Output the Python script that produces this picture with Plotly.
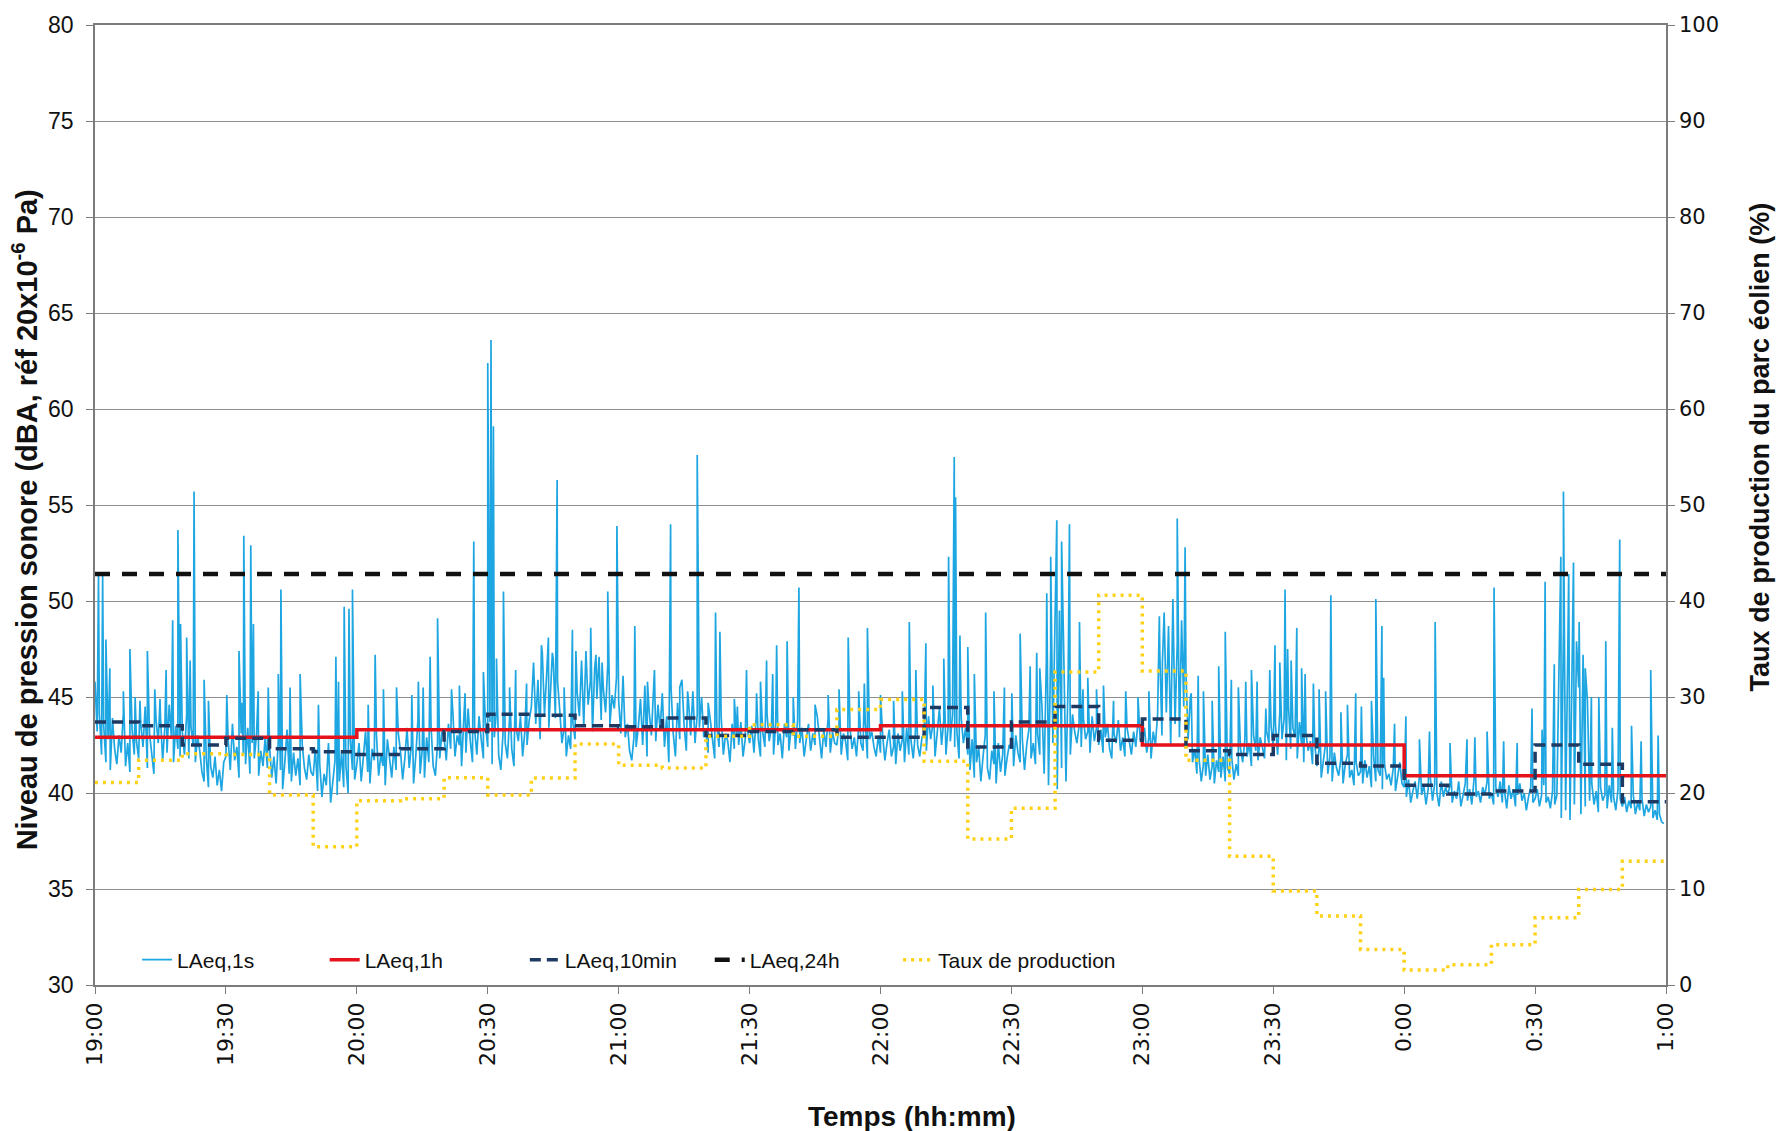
import plotly.graph_objects as go

# ---------------------------------------------------------------------------
# Data (time axis in minutes after 19:00, 360 min = 1:00)
# ---------------------------------------------------------------------------
tick_minutes = [0, 30, 60, 90, 120, 150, 180, 210, 240, 270, 300, 330, 360]
tick_labels = ["19:00", "19:30", "20:00", "20:30", "21:00", "21:30", "22:00",
               "22:30", "23:00", "23:30", "0:00", "0:30", "1:00"]

# LAeq,1s background level, one value every 30 s (20 values per 10-min block)
laeq_1s_band = [
    45.8, 43.2, 44.1, 42.0, 43.5, 41.6, 42.8, 41.2, 43.9, 42.3,
    41.5, 43.0, 42.1, 44.2, 41.4, 42.6, 41.1, 43.3, 42.0, 42.7,
    41.8, 43.6, 42.4, 44.5, 41.3, 43.1, 42.2, 41.0, 43.8, 42.6,
    44.0, 41.7, 43.4, 42.1, 44.6, 42.9, 41.6, 43.5, 42.3, 41.9,
    43.2, 42.0, 44.1, 41.8, 43.4, 42.5, 41.6, 43.0, 42.2, 41.1,
    40.6, 41.8, 40.3, 41.4, 40.8, 41.9, 40.4, 41.2, 40.1, 41.6,
    41.9, 42.8, 41.2, 43.6, 41.7, 42.4, 40.8, 43.1, 42.0, 41.5,
    43.4, 41.0, 42.6, 41.8, 43.0, 40.9, 42.2, 41.4, 42.9, 41.3,
    42.4, 40.8, 41.9, 40.5, 42.7, 41.2, 40.2, 41.6, 43.3, 41.0,
    40.6, 42.1, 40.9, 41.8, 40.4, 42.5, 41.3, 40.7, 42.0, 41.1,
    40.9, 42.3, 40.1, 41.5, 39.8, 41.0, 40.4, 42.6, 39.5, 40.8,
    41.7, 39.9, 40.6, 42.1, 40.3, 41.4, 40.0, 42.8, 41.2, 40.7,
    41.5, 42.6, 40.6, 41.9, 43.2, 41.1, 40.5, 42.3, 41.7, 43.0,
    40.9, 42.0, 41.4, 40.4, 42.8, 41.6, 40.8, 42.4, 41.2, 43.1,
    42.2, 40.7, 41.8, 43.4, 41.3, 42.5, 40.5, 41.9, 43.8, 41.0,
    42.3, 40.8, 42.9, 41.6, 43.5, 41.4, 40.9, 42.6, 41.8, 43.2,
    42.9, 41.7, 43.6, 42.3, 44.2, 41.9, 43.0, 42.5, 41.4, 43.8,
    42.1, 44.4, 42.7, 41.6, 43.3, 42.0, 44.0, 42.8, 41.8, 43.5,
    42.4, 43.7, 41.5, 42.9, 44.3, 42.0, 41.2, 43.1, 42.6, 41.8,
    43.9, 42.3, 41.4, 43.4, 42.7, 44.0, 41.9, 43.2, 42.5, 43.8,
    44.5, 46.8, 43.6, 45.9, 42.8, 47.3, 44.1, 46.2, 43.4, 45.5,
    47.0, 43.9, 45.8, 44.3, 42.6, 43.4, 41.9, 43.0, 42.3, 43.7,
    42.8, 45.2, 44.0, 46.9, 43.5, 47.4, 44.6, 45.8, 43.2, 46.5,
    44.9, 47.1, 43.8, 45.4, 44.2, 46.7, 43.6, 45.1, 44.4, 46.0,
    44.8, 43.1, 45.6, 42.9, 43.6, 42.2, 41.7, 42.9, 42.4, 43.4,
    44.9, 42.5, 45.6, 41.9, 44.2, 43.0, 45.8, 42.7, 44.6, 43.3,
    45.2, 42.4, 44.0, 41.6, 45.5, 43.1, 41.9, 44.7, 42.8, 45.9,
    43.5, 42.2, 44.8, 43.0, 45.3, 42.6, 44.1, 43.4, 45.0, 42.9,
    43.2, 42.1, 43.8, 42.6, 41.8, 43.5, 42.4, 43.9, 42.0, 43.1,
    42.7, 41.6, 43.6, 42.3, 43.0, 42.5, 43.7, 41.9, 42.8, 43.3,
    42.6, 43.5, 42.1, 43.9, 42.8, 41.9, 43.2, 42.4, 44.1, 42.7,
    43.4, 42.0, 43.7, 42.5, 43.1, 41.8, 43.6, 42.9, 42.2, 43.3,
    43.0, 42.3, 43.8, 42.6, 43.4, 41.9, 42.8, 43.6, 42.2, 43.1,
    42.5, 44.0, 42.7, 41.8, 43.3, 42.4, 43.9, 42.1, 43.2, 42.6,
    42.5, 43.6, 42.0, 43.1, 42.7, 41.7, 43.4, 42.3, 42.9, 41.9,
    43.5, 42.6, 42.2, 43.7, 41.8, 42.8, 43.2, 42.4, 41.9, 43.0,
    42.1, 43.0, 41.7, 42.6, 43.3, 41.9, 42.4, 41.5, 43.1, 42.2,
    42.8, 41.6, 43.4, 42.0, 42.7, 41.8, 43.2, 42.5, 41.9, 42.9,
    43.1, 42.2, 44.0, 42.8, 43.6, 41.9, 43.3, 44.4, 42.5, 43.8,
    42.0, 43.5, 42.7, 44.1, 42.4, 43.2, 41.8, 43.9, 42.6, 43.4,
    42.0, 41.2, 42.8, 40.8, 41.6, 42.4, 40.6, 41.9, 43.0, 41.3,
    40.7, 42.2, 41.5, 40.5, 42.6, 41.1, 42.0, 40.9, 41.8, 42.5,
    42.3, 41.4, 43.0, 42.1, 41.6, 42.8, 41.2, 42.5, 43.3, 41.8,
    42.6, 41.5, 43.1, 42.0, 44.5, 41.0, 46.8, 40.4, 47.5, 42.6,
    48.6, 40.2, 49.5, 41.3, 47.2, 40.6, 45.9, 42.0, 44.1, 43.2,
    42.6, 43.5, 42.4, 43.9, 42.8, 43.2, 42.1, 44.0, 42.7, 43.4,
    42.5, 43.3, 42.1, 42.9, 43.6, 42.3, 41.8, 43.1, 42.6, 43.8,
    42.2, 42.9, 41.9, 43.4, 42.7, 42.0, 43.2, 42.4, 43.7, 42.8,
    42.6, 43.4, 42.1, 42.9, 41.8, 43.2, 42.5, 44.1, 47.3, 43.0,
    49.4, 44.2, 48.7, 42.5, 50.1, 43.6, 47.8, 42.9, 49.0, 44.5,
    46.2, 42.8, 45.0, 41.6, 42.3, 41.0, 41.8, 40.6, 41.5, 40.9,
    42.0, 40.7, 41.4, 40.5, 41.7, 41.1, 40.8, 41.9, 40.6, 41.3,
    41.0, 41.8, 40.7, 41.5, 40.9, 42.3, 41.6, 42.8, 41.9, 42.6,
    41.4, 43.0, 42.2, 41.7, 42.9, 42.4, 41.8, 43.2, 42.6, 43.5,
    42.4, 43.6, 42.0, 44.2, 42.8, 43.9, 41.7, 44.5, 42.3, 43.4,
    42.9, 41.8, 43.7, 42.5, 41.6, 43.1, 42.2, 42.7, 41.5, 42.6,
    41.4, 42.3, 40.8, 41.7, 42.6, 41.0, 41.9, 40.6, 42.1, 41.3,
    40.9, 41.8, 40.5, 41.5, 42.0, 40.8, 41.2, 40.4, 41.6, 40.9,
    41.1, 40.5, 41.7, 40.8, 41.4, 40.3, 41.9, 40.6, 41.2, 40.9,
    40.2, 41.5, 40.7, 41.0, 40.4, 41.3, 40.1, 40.8, 41.6, 40.5,
    40.3, 39.8, 40.7, 39.5, 40.1, 40.6, 39.7, 40.9, 39.9, 40.4,
    39.4, 40.2, 40.8, 39.6, 40.5, 40.0, 39.3, 40.6, 39.8, 40.3,
    39.9, 40.4, 39.5, 40.1, 39.7, 40.6, 39.3, 40.0, 40.5, 39.6,
    40.2, 39.4, 40.7, 39.8, 40.1, 39.5, 40.3, 39.9, 40.6, 39.7,
    40.0, 39.4, 40.3, 39.8, 40.6, 39.5, 40.1, 39.2, 40.4, 39.7,
    40.2, 39.3, 39.9, 40.5, 39.6, 40.0, 39.1, 39.8, 40.3, 39.5,
    39.7, 40.2, 39.3, 39.9, 40.4, 39.5, 39.8, 39.2, 40.1, 39.4,
    39.9, 46.8, 38.7, 48.6, 39.1, 47.4, 38.6, 49.2, 39.4, 47.9,
    45.5, 38.9, 47.2, 39.3, 44.8, 39.6, 40.5, 39.4, 40.1, 39.0,
    40.3, 39.6, 39.9, 39.2, 40.4, 39.5, 39.8, 39.1, 40.2, 39.7,
    39.3, 39.8, 39.0, 39.6, 39.2, 39.9, 38.9, 39.5, 39.1, 39.7,
    38.8, 39.4, 39.0, 39.3, 38.7, 39.1, 38.6, 38.9, 38.5, 38.4,
]
band_step_min = 0.5

# Loud noise events in LAeq,1s (minute after 19:00, level in dBA)
spike_minutes = [
    0.8, 1.75, 2.5, 8.0, 12.0, 16.3, 17.8, 19.0, 19.6, 21.0, 22.7, 25.0,
    33.0, 34.1, 35.7, 36.3, 42.6, 47.0, 55.2, 57.1, 58.2, 59.0, 64.2, 69.1,
    74.1, 76.8, 78.5, 83.5, 86.8, 90.0, 90.75, 91.3, 93.6, 96.4, 102.3,
    103.9, 105.9, 109.4, 113.6, 117.5, 119.6, 123.7, 131.9, 138.0, 142.2,
    143.2, 149.3, 153.9, 156.2, 158.6, 161.3, 172.6, 177.0, 186.6, 188.1,
    190.4, 195.6, 196.9, 197.2, 198.2, 200.0, 204.1, 212.0, 214.3, 215.8,
    218.1, 219.0, 220.4, 221.5, 223.3, 225.6, 227.5, 231.1, 243.9, 248.0,
    249.8, 252.8, 259.0, 262.0, 268.3, 270.4, 272.7, 273.3, 275.4, 277.3,
    283.2, 288.9, 293.5, 294.9, 295.3, 300.4, 307.1, 319.0, 320.6, 332.3,
    335.9, 336.5, 337.7, 338.8, 340.1, 342.9, 346.2, 349.4, 356.5,
]
spike_levels = [
    51.3, 51.3, 48.0, 47.5, 47.4, 46.4, 49.0, 53.7, 48.8, 48.1, 55.7, 45.9,
    47.4, 53.4, 52.9, 48.8, 50.6, 46.2, 47.1, 49.7, 49.6, 50.6, 47.2, 45.5,
    45.8, 47.1, 49.1, 45.6, 53.1, 62.4, 63.6, 59.1, 50.5, 46.4, 47.7,
    48.1, 56.3, 48.5, 48.6, 50.5, 53.9, 48.7, 54.0, 57.6, 49.4,
    48.4, 46.4, 46.9, 47.7, 47.9, 50.7, 48.1, 48.6, 48.9, 46.4,
    47.8, 52.3, 57.5, 55.4, 48.2, 47.6, 49.4, 48.3, 46.6, 47.3,
    50.4, 52.3, 54.2, 53.1, 54.0, 48.9, 46.0, 45.6, 49.2, 54.3,
    52.8, 46.1, 48.4, 45.5, 44.4, 47.7, 50.6, 47.5, 48.6, 46.2,
    50.3, 45.2, 50.1, 48.7, 46.0, 44.0, 48.9, 43.2, 50.7, 51.0,
    52.3, 55.7, 51.4, 52.0, 48.9, 45.0, 47.9, 53.2, 46.4,
]

# Smaller noise events in LAeq,1s (minute after 19:00, level in dBA)
minor_spike_minutes = [
    3.4, 6.5, 9.2, 10.3, 13.7, 14.9, 21.8, 26.0, 30.2, 33.6, 37.4, 39.7,
    42.0, 44.7, 51.2, 55.8, 62.6, 66.1, 72.6, 75.2, 81.7, 84.8, 89.0, 92.0,
    95.0, 98.9, 104.8, 107.5, 110.2, 114.8, 116.2, 121.0, 126.6, 128.2,
    134.0, 135.8, 140.5, 146.5, 147.2, 151.6, 152.5, 155.3, 160.0, 165.0,
    168.0, 170.5, 175.0, 176.3, 180.0, 183.0, 185.0, 192.0, 194.5, 201.5,
    206.0, 208.4, 210.1, 216.5, 226.4, 229.5, 233.4, 236.2, 239.0, 241.5,
    244.6, 251.2, 254.0, 256.0, 257.5, 260.4, 263.7, 265.0, 266.3, 269.2,
    271.5, 274.1, 276.5, 279.2, 280.5, 282.0, 285.5, 287.0, 290.2, 292.5,
    297.8, 303.5, 305.8, 310.5, 314.4, 316.2, 322.8, 325.9, 329.3, 331.6,
    334.4, 341.5, 344.6, 347.7, 352.1, 354.3, 358.2,
]
minor_spike_levels = [
    46.5, 45.3, 45.0, 44.8, 45.4, 44.9, 46.9, 44.8, 45.1, 44.7, 45.3, 45.5,
    46.2, 45.5, 44.6, 45.8, 44.6, 45.4, 45.1, 45.5, 45.4, 45.2, 46.3, 47.0,
    45.5, 45.7, 47.3, 45.5, 47.4, 47.2, 46.8, 46.1, 45.8, 46.4,
    45.5, 45.3, 44.7, 44.9, 44.5, 45.2, 45.8, 46.2, 45.0, 44.6,
    45.1, 45.4, 45.3, 45.7, 45.1, 44.8, 45.3, 45.6, 47.0, 46.2,
    45.3, 45.5, 45.2, 46.5, 45.4, 45.4, 44.8, 45.3, 45.0, 45.3,
    46.8, 45.2, 45.3, 44.8, 46.6, 45.9, 45.8, 46.4, 45.8, 46.4,
    46.8, 46.9, 46.5, 45.7, 45.4, 45.3, 44.2, 44.6, 44.5, 44.8,
    43.6, 42.8, 43.2, 42.6, 42.8, 42.9, 42.7, 42.6, 44.4, 43.3,
    46.7, 46.5, 45.0, 43.4, 43.5, 42.7, 43.0,
]

# LAeq,10min (one value per 10-minute interval)
laeq_10min = [
    43.7, 43.5, 42.5, 42.85, 42.3, 42.15,
    42.0, 42.3, 43.2, 44.1, 44.05, 43.5,
    43.45, 43.9, 43.0, 43.2, 43.3, 42.9,
    42.9, 44.45, 42.4, 43.7, 44.5, 42.75,
    43.85, 42.2, 42.0, 43.0, 41.55, 41.4,
    40.4, 39.95, 40.1, 42.5, 41.5, 39.55,
]

# LAeq,1h (one value per hour)
laeq_1h = [42.9, 43.3, 43.3, 43.5, 42.5, 40.9]

# LAeq,24h
laeq_24h = 51.4

# Wind farm production rate, % (one value per 10-minute interval)
production_pct = [
    21.1, 23.4, 24.1, 24.0, 19.8, 14.4,
    19.2, 19.4, 21.6, 19.8, 21.55, 25.1,
    22.9, 22.6, 25.9, 27.1, 25.9, 28.7,
    29.75, 23.3, 15.2, 18.4, 32.6, 40.6,
    32.7, 23.4, 13.4, 9.8, 7.2, 3.7,
    1.55, 2.1, 4.2, 7.0, 9.95, 12.9,
]

# ---------------------------------------------------------------------------
# Series assembly
# ---------------------------------------------------------------------------
points = [(i * band_step_min, v) for i, v in enumerate(laeq_1s_band)]
points += list(zip(spike_minutes, spike_levels))
points += list(zip(minor_spike_minutes, minor_spike_levels))
points.sort(key=lambda p: p[0])
x_1s = [p[0] for p in points]
y_1s = [p[1] for p in points]

x_10 = [10 * i for i in range(len(laeq_10min) + 1)]
y_10 = laeq_10min + [laeq_10min[-1]]
x_1h = [60 * i for i in range(len(laeq_1h) + 1)]
y_1h = laeq_1h + [laeq_1h[-1]]
x_prod = [10 * i for i in range(len(production_pct) + 1)]
y_prod = production_pct + [production_pct[-1]]

C_1S = "#1DA6E1"
C_1H = "#E5121C"
C_10 = "#1E3A62"
C_24 = "#111111"
C_PROD = "#FFD21A"
GRID = "#8F8F8F"
AXIS = "#7C7C7C"
TXT = "#111111"

fig = go.Figure()
fig.add_trace(go.Scatter(x=x_1s, y=y_1s, mode="lines", name="LAeq,1s",
                         legend="legend",
                         line=dict(color=C_1S, width=1.7)))
fig.add_trace(go.Scatter(x=x_1h, y=y_1h, mode="lines", name="LAeq,1h",
                         legend="legend2",
                         line=dict(color=C_1H, width=3.5, shape="hv")))
fig.add_trace(go.Scatter(x=x_10, y=y_10, mode="lines", name="LAeq,10min",
                         legend="legend3",
                         line=dict(color=C_10, width=3.5, shape="hv",
                                   dash="11px,6px")))
fig.add_trace(go.Scatter(x=[0, 360], y=[laeq_24h, laeq_24h], mode="lines",
                         name="LAeq,24h", legend="legend4",
                         line=dict(color=C_24, width=4.5, dash="15px,12px")))
fig.add_trace(go.Scatter(x=x_prod, y=y_prod, mode="lines",
                         name="Taux de production", yaxis="y2",
                         legend="legend5",
                         line=dict(color=C_PROD, width=3.5, shape="hv",
                                   dash="3px,5px")))


def legend_box(xpos):
    return dict(orientation="h", x=xpos, y=0.026, xanchor="left",
                yanchor="middle", bgcolor="rgba(0,0,0,0)",
                font=dict(family="Liberation Sans, Arial, sans-serif",
                          size=21, color=TXT))


fig.update_layout(
    width=1781, height=1131,
    margin=dict(l=95, r=115, t=23, b=146),
    paper_bgcolor="white", plot_bgcolor="white",
    font=dict(family="Liberation Sans, Arial, sans-serif", color=TXT),
    showlegend=True,
    legend=legend_box(0.0268),
    legend2=legend_box(0.1462),
    legend3=legend_box(0.2736),
    legend4=legend_box(0.3913),
    legend5=legend_box(0.5112),
    xaxis=dict(range=[0, 360], tickmode="array", tickvals=tick_minutes,
               ticktext=tick_labels, tickangle=-90,
               tickfont=dict(family="DejaVu Sans, sans-serif", size=22,
                             color=TXT),
               showgrid=False, zeroline=False,
               showline=True, linecolor=AXIS, linewidth=1.5, mirror=True,
               ticks="outside", ticklen=7, tickcolor=AXIS, tickwidth=1.2),
    yaxis=dict(range=[30, 80], dtick=5, tick0=30,
               tickfont=dict(family="Liberation Sans, Arial, sans-serif",
                             size=23, color=TXT),
               ticklabelstandoff=8,
               showgrid=True, gridcolor=GRID, gridwidth=1, zeroline=False,
               showline=True, linecolor=AXIS, linewidth=1.5,
               ticks="outside", ticklen=7, tickcolor=AXIS, tickwidth=1.2),
    yaxis2=dict(range=[0, 100], dtick=10, tick0=0, overlaying="y",
                side="right",
                tickfont=dict(family="DejaVu Sans, sans-serif", size=21,
                              color=TXT),
                showgrid=False, zeroline=False,
                showline=True, linecolor=AXIS, linewidth=1.5,
                ticks="outside", ticklen=7, tickcolor=AXIS, tickwidth=1.2),
    annotations=[
        dict(text="Niveau de pression sonore (dBA, réf 20x10<sup>-6</sup> Pa)",
             xref="paper", yref="paper", x=-0.0446, y=0.485,
             xanchor="center", yanchor="middle", textangle=-90,
             showarrow=False,
             font=dict(family="Liberation Sans, Arial, sans-serif", size=29,
                       color=TXT, weight="bold")),
        dict(text="Taux de production du parc éolien (%)",
             xref="paper", yref="paper", x=1.0598, y=0.561,
             xanchor="center", yanchor="middle", textangle=-90,
             showarrow=False,
             font=dict(family="Liberation Sans, Arial, sans-serif", size=27,
                       color=TXT, weight="bold")),
        dict(text="Temps (hh:mm)",
             xref="paper", yref="paper", x=0.52, y=-0.137,
             xanchor="center", yanchor="middle", showarrow=False,
             font=dict(family="Liberation Sans, Arial, sans-serif", size=28,
                       color=TXT, weight="bold")),
    ],
)

fig.write_html("out.html")
